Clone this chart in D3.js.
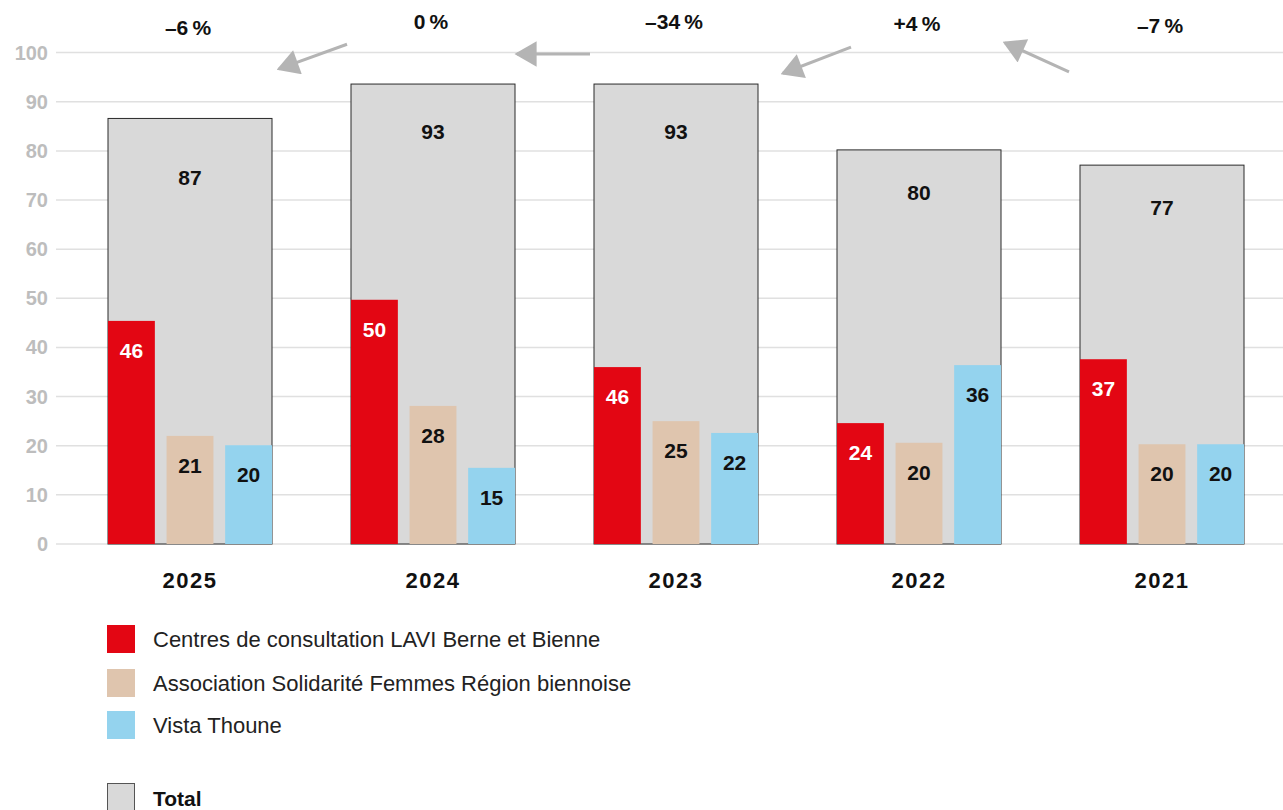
<!DOCTYPE html>
<html><head><meta charset="utf-8">
<script src="https://cdn.jsdelivr.net/npm/d3@7"></script>
<style>
body{margin:0;background:#fff;}
svg{display:block;font-family:"Liberation Sans",Arial,Helvetica,sans-serif;}
</style></head>
<body><svg id="c" width="1283" height="810"></svg>
<script>
// ---- data ----
const years = ["2025","2024","2023","2022","2021"];
const seriesNames = ["Centres de consultation LAVI Berne et Bienne","Association Solidarité Femmes Région biennoise","Vista Thoune"];
const totals      = [86.6, 93.6, 93.6, 80.2, 77.1];   // bar heights as drawn
const totalLabels = ["87","93","93","80","77"];
const lavi        = [45.4, 49.7, 36.0, 24.6, 37.6];
const laviLabels  = ["46","50","46","24","37"];
const solidarite  = [22.0, 28.1, 25.0, 20.6, 20.3];
const solLabels   = ["21","28","25","20","20"];
const vista       = [20.1, 15.5, 22.6, 36.4, 20.3];
const vistaLabels = ["20","15","22","36","20"];
const changes     = ["–6\u2009%","0\u2009%","–34\u2009%","+4\u2009%","–7\u2009%"];
// arrows between neighbouring years (start/end in value units)
const arrowFrom = [101.7, 99.7, 101.1, 96.1];
const arrowTo   = [96.7, 99.7, 95.8, 102.0];
const yTicks = [0,10,20,30,40,50,60,70,80,90,100];
const colors = ["#e30613","#dfc5ae","#94d3ee"];
const totalFill = "#d9d9d9";

// ---- scales ----
const svg = d3.select("#c");
const y = d3.scaleLinear().domain([0,100]).range([544,52.6]);
const groupW = 164;
const xc = d3.scalePoint().domain(years).range([190,1162]);
const xs = d3.scaleBand().domain(d3.range(3)).range([0,groupW]).paddingInner(0.2).paddingOuter(0);

// grid
svg.append("g").selectAll("line").data(yTicks).join("line")
  .attr("x1",56).attr("x2",1283)
  .attr("y1",d=>y(d)).attr("y2",d=>y(d))
  .attr("stroke","#e0e0e0").attr("stroke-width",1.5);
svg.append("g").selectAll("text").data(yTicks).join("text")
  .attr("x",48).attr("y",d=>y(d)+7).attr("text-anchor","end")
  .attr("font-size",20).attr("font-weight","bold").attr("fill","#bdbdbd")
  .text(d=>d);

// totals
const totalLabelOffset = [67,55,55,50,50];
const g = svg.append("g");
years.forEach((yr,i)=>{
  const x0 = xc(yr)-groupW/2;
  g.append("rect").attr("x",x0).attr("y",y(totals[i]))
    .attr("width",groupW).attr("height",y(0)-y(totals[i]))
    .attr("fill",totalFill).attr("stroke","#2a2a2a").attr("stroke-width",1);
  g.append("text").attr("x",xc(yr)).attr("y",y(totals[i])+totalLabelOffset[i])
    .attr("text-anchor","middle").attr("font-size",21).attr("font-weight","bold")
    .attr("fill","#111").text(totalLabels[i]);
  const vals=[lavi[i],solidarite[i],vista[i]];
  const labs=[laviLabels[i],solLabels[i],vistaLabels[i]];
  vals.forEach((v,j)=>{
    const bx = x0+xs(j);
    g.append("rect").attr("x",bx).attr("y",y(v))
      .attr("width",xs.bandwidth()).attr("height",y(0)-y(v)).attr("fill",colors[j]);
    g.append("text").attr("x",bx+xs.bandwidth()/2).attr("y",y(v)+37)
      .attr("text-anchor","middle").attr("font-size",21).attr("font-weight","bold")
      .attr("fill",j===0?"#fff":"#111").text(labs[j]);
  });
  // year labels
  svg.append("text").attr("x",xc(yr)).attr("y",588).attr("text-anchor","middle")
    .attr("font-size",22).attr("font-weight","bold").attr("fill","#111")
    .attr("letter-spacing",1.5).text(yr);
  // change labels
  svg.append("text").attr("x",xc(yr)-2).attr("y",[35,29,29,31,33][i]).attr("text-anchor","middle")
    .attr("font-size",21).attr("font-weight","bold").attr("fill","#111").text(changes[i]);
});

// arrows
const defs = svg.append("defs");
defs.append("marker").attr("id","ah").attr("viewBox","0 0 10 10").attr("refX",9).attr("refY",5)
  .attr("markerWidth",8.5).attr("markerHeight",8.5).attr("orient","auto")
  .attr("markerUnits","strokeWidth")
  .append("path").attr("d","M1.3,0 L10,5 L1.3,10 Z").attr("fill","#b4b4b4");
const arrowDx = [[35.5,-32.5],[35.5,-37.5],[53.5,-14.5],[28.5,-35.5]];
arrowFrom.forEach((v,i)=>{
  const mid = (xc(years[i])+xc(years[i+1]))/2;
  const x1=mid+arrowDx[i][0], x2=mid+arrowDx[i][1];
  const y1=y(v), y2=y(arrowTo[i]);
  svg.append("line").attr("x1",x1).attr("y1",y1).attr("x2",x2).attr("y2",y2)
    .attr("stroke","#b4b4b4").attr("stroke-width",3).attr("marker-end","url(#ah)");
});

// legend
const leg = svg.append("g");
const legY = [639,683,725];
seriesNames.forEach((n,j)=>{
  leg.append("rect").attr("x",107).attr("y",legY[j]-14).attr("width",28).attr("height",28).attr("fill",colors[j]);
  leg.append("text").attr("x",153).attr("y",legY[j]+8).attr("font-size",22).attr("fill","#222").text(n);
});
leg.append("rect").attr("x",107.5).attr("y",783.5).attr("width",27).attr("height",30)
  .attr("fill",totalFill).attr("stroke","#555").attr("stroke-width",1);
leg.append("text").attr("x",153).attr("y",806).attr("font-size",21).attr("font-weight","bold").attr("fill","#111").text("Total");
</script></body></html>
